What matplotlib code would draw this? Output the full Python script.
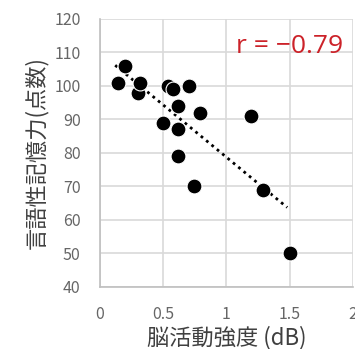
import numpy as np
import matplotlib
matplotlib.use("Agg")
import matplotlib.pyplot as plt

plt.rcParams['font.family'] = ['Noto Sans CJK JP', 'DejaVu Sans']

x_vals = [0.14, 0.20, 0.30, 0.32, 0.50, 0.54, 0.58, 0.62, 0.62, 0.62, 0.70, 0.74, 0.79, 1.19, 1.29, 1.50]
y_vals = [101, 106, 98, 101, 89, 100, 99, 94, 87, 79, 100, 70, 92, 91, 69, 50]
x_ticks = [0, 0.5, 1, 1.5, 2]
x_tick_labels = ['0', '0.5', '1', '1.5', '2']
y_ticks = [40, 50, 60, 70, 80, 90, 100, 110, 120]
r_text = 'r = \u22120.79'

fig = plt.figure(figsize=(3.55, 3.49), dpi=100)
ax = fig.add_axes([0.2817, 0.178, 0.7125, 0.768])

ax.set_xlim(0, 2)
ax.set_ylim(40, 120)
ax.set_xticks(x_ticks)
ax.set_xticklabels(x_tick_labels)
ax.set_yticks(y_ticks)
ax.grid(True, color='#d9d9d9', linewidth=1.2)
ax.set_axisbelow(True)
for s in ['top', 'right']:
    ax.spines[s].set_visible(False)
for s in ['left', 'bottom']:
    ax.spines[s].set_color('#bfbfbf')
    ax.spines[s].set_linewidth(1.2)
ax.tick_params(length=0, labelsize=11.5, colors='#666666')
ax.tick_params(axis='x', pad=14)
ax.tick_params(axis='y', pad=14)

xa = np.array(x_vals)
ya = np.array(y_vals)
m, b = np.polyfit(xa, ya, 1)
xl = np.array([xa.min() - 0.02, xa.max() - 0.02])
ax.plot(xl, m * xl + b, color='black', linestyle=(0, (1, 1.5)), linewidth=2, zorder=2)

ax.scatter(xa, ya, s=115, color='black', edgecolors='white', linewidths=0.8, zorder=3, clip_on=False)

ax.text(0.96, 0.895, r_text, transform=ax.transAxes, ha='right', va='center',
        fontsize=19, color='#cc2229', family=['Open Sans', 'DejaVu Sans'])

ax.set_xlabel('脳活動強度 (dB)', fontsize=16, color='#404040', labelpad=2)
ax.set_ylabel('言語性記憶力(点数)', fontsize=16, color='#404040', labelpad=4)

fig.savefig('out.png', dpi=100)
